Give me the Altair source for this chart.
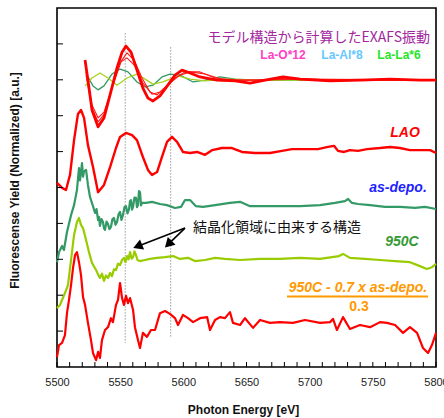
import altair as alt
import pandas as pd

# ---------------- data ----------------
# Model EXAFS oscillations (top group)
sum_E = [5522.2, 5524.5, 5527.7, 5532.5, 5537.2, 5542.0, 5547.5, 5551.5, 5554.6, 5558.6, 5563.3, 5568.0,
         5572.0, 5576.0, 5581.5, 5587.9, 5593.4, 5599.0, 5605.3, 5613.2, 5626.7, 5641.0, 5652.8, 5664.7,
         5678.9, 5692.4, 5716.0, 5740.0, 5763.6, 5787.4, 5800.0]
sum_v = [8.55, 7.99, 7.16, 6.69, 6.94, 7.58, 8.33, 8.77, 8.94, 8.77, 8.27, 7.77,
         7.49, 7.41, 7.55, 7.86, 8.13, 8.27, 8.19, 8.08, 7.99, 7.97, 7.91, 7.99,
         8.08, 8.02, 7.97, 7.99, 8.02, 7.99, 7.99]

thinA_E = [5523.0, 5527.7, 5532.5, 5537.2, 5543.5, 5549.9, 5555.4, 5561.0, 5567.3, 5573.6, 5579.2, 5585.5,
           5593.4, 5601.3, 5613.2, 5625.0, 5641.0, 5660.7, 5684.4, 5716.0, 5800.0]
thinA_v = [8.22, 7.30, 6.94, 7.10, 7.77, 8.47, 8.75, 8.55, 8.05, 7.66, 7.58, 7.77,
           8.05, 8.22, 8.22, 8.05, 7.99, 7.99, 8.05, 7.99, 7.99]

thinB_E = [5523.0, 5527.7, 5532.5, 5538.0, 5544.3, 5550.7, 5555.4, 5561.7, 5568.0, 5575.2, 5581.5, 5589.4,
           5597.4, 5605.3, 5617.2, 5633.0, 5652.8, 5692.4, 5800.0]
thinB_v = [8.13, 7.21, 6.83, 7.07, 7.85, 8.50, 8.61, 8.39, 7.91, 7.60, 7.66, 7.91,
           8.13, 8.22, 8.16, 7.99, 7.99, 8.02, 7.99]

mgreen_E = [5524.5, 5528.5, 5532.5, 5537.2, 5543.5, 5549.9, 5556.2, 5563.3, 5569.7, 5576.0, 5583.1, 5589.4,
            5597.4, 5607.7, 5617.2, 5629.0, 5641.0, 5656.7, 5692.4, 5800.0]
mgreen_v = [8.08, 7.83, 7.72, 7.83, 8.16, 8.30, 8.22, 7.94, 7.80, 7.85, 8.08, 8.16,
            8.13, 7.94, 7.99, 8.08, 8.02, 7.99, 7.99, 7.99]

mlime_E = [5522.2, 5527.7, 5534.0, 5540.4, 5547.5, 5555.4, 5563.3, 5569.7, 5576.0, 5583.9, 5595.8, 5605.3,
           5617.2, 5633.0, 5660.7, 5800.0]
mlime_v = [7.83, 8.05, 8.19, 8.05, 7.85, 8.05, 8.16, 8.02, 7.88, 7.94, 8.11, 8.02,
           7.97, 8.02, 7.99, 7.99]

# LAO reference
lao_E = [5500.0, 5504.0, 5507.1, 5510.3, 5513.5, 5516.6, 5519.0, 5521.4, 5524.5, 5528.5, 5532.5, 5537.2,
         5542.0, 5546.7, 5549.9, 5554.6, 5559.4, 5563.3, 5568.0, 5572.0, 5575.2, 5579.2, 5583.1, 5587.1,
         5591.0, 5595.0, 5599.7, 5605.3, 5610.8, 5617.2, 5622.7, 5630.6, 5638.5, 5646.4, 5656.7, 5668.6,
         5678.1, 5686.0, 5696.3, 5706.6, 5714.5, 5719.3, 5722.4, 5727.2, 5731.9, 5738.3, 5745.4, 5755.7,
         5763.6, 5771.5, 5779.4, 5787.3, 5795.3, 5800.0]
lao_v = [5.13, 4.99, 4.93, 5.35, 6.32, 7.05, 7.16, 6.94, 6.18, 5.57, 4.87, 5.07,
         5.57, 6.10, 6.41, 6.52, 6.46, 6.32, 5.85, 5.49, 5.35, 5.43, 5.85, 6.27,
         6.41, 6.27, 5.99, 5.96, 5.99, 5.91, 6.04, 6.10, 6.10, 5.99, 5.96, 5.96,
         6.02, 6.07, 6.07, 6.07, 6.13, 6.16, 6.02, 5.99, 6.04, 6.02, 6.07, 6.10,
         6.13, 6.10, 6.04, 6.04, 6.04, 5.96]

# as-deposited film
asd_E = [5500.0, 5501.6, 5504.0, 5505.5, 5507.9, 5511.1, 5513.5, 5515.8, 5517.4, 5518.2, 5519.0, 5519.8,
         5520.6, 5521.4, 5523.0, 5524.5, 5526.1, 5528.5, 5530.1, 5531.3, 5532.5, 5533.3, 5534.0, 5535.2,
         5536.4, 5537.2, 5538.0, 5539.2, 5540.4, 5541.5, 5542.7, 5543.9, 5545.1, 5546.3, 5547.5, 5548.7,
         5549.9, 5551.0, 5552.2, 5553.4, 5554.6, 5555.8, 5557.0, 5557.8, 5558.6, 5559.4, 5560.2, 5561.3,
         5562.5, 5563.3, 5564.1, 5564.9, 5565.7, 5566.5, 5567.3, 5570.5,
         5575.2, 5581.5, 5587.1, 5593.4, 5598.2, 5601.3, 5605.3, 5610.0, 5615.6, 5625.1, 5636.9, 5644.9,
         5652.8, 5668.6, 5692.4, 5708.2, 5720.1, 5727.9, 5730.4, 5733.5, 5738.3, 5747.8, 5759.7, 5771.5,
         5783.4, 5791.3, 5800.0]
asd_v = [2.92, 3.20, 3.37, 3.26, 3.76, 4.23, 4.51, 4.93, 5.54, 5.20, 5.43, 5.68,
         5.30, 5.45, 5.49, 5.07, 4.74, 4.48, 4.29, 4.40, 4.09, 4.18, 3.93, 4.12,
         4.04, 3.86, 3.82, 4.05, 3.98, 3.84, 3.90, 4.12, 4.15, 3.96, 4.04, 4.25,
         4.32, 4.10, 4.23, 4.45, 4.48, 4.28, 4.40, 4.62, 4.65, 4.38, 4.46, 4.72,
         4.71, 4.45, 4.51, 4.90, 4.87, 4.50, 4.57, 4.57,
         4.60, 4.54, 4.51, 4.43, 4.46, 4.65, 4.65, 4.48, 4.46, 4.51, 4.57, 4.60,
         4.48, 4.48, 4.48, 4.51, 4.57, 4.62, 4.68, 4.57, 4.54, 4.51, 4.46, 4.46,
         4.43, 4.46, 4.40]

# 950C annealed film
c950_E = [5500.0, 5502.4, 5506.3, 5508.7, 5511.1, 5513.5, 5515.8, 5517.4, 5519.0, 5520.6, 5523.0, 5525.3,
          5527.7, 5530.9, 5532.5, 5534.0, 5535.6, 5537.2, 5538.8, 5540.4, 5542.0, 5543.5, 5545.1, 5546.7,
          5548.3, 5549.9, 5551.5, 5553.0, 5554.2, 5555.4, 5556.6, 5557.8, 5559.0, 5560.2, 5561.3,
          5562.5, 5563.7, 5565.7, 5569.7, 5573.6, 5579.2, 5585.5, 5591.8, 5597.4, 5603.7, 5609.2, 5617.2, 5625.1,
          5633.0, 5644.9, 5660.7, 5676.5, 5692.4, 5708.2, 5723.2, 5726.4, 5731.9, 5743.8, 5755.7, 5767.6,
          5779.4, 5787.3, 5792.8, 5796.8, 5800.0]
c950_v = [1.64, 1.73, 2.06, 2.28, 2.98, 3.68, 4.04, 4.15, 3.96, 3.87, 3.54, 3.20,
          2.90, 2.70, 2.58, 2.48, 2.60, 2.40, 2.55, 2.48, 2.62, 2.53, 2.72, 2.70,
          2.88, 2.84, 2.98, 3.04, 2.92, 3.09, 3.00, 3.20, 3.02, 3.06, 3.22,
          3.12, 2.98, 2.95, 2.98, 3.01, 3.04, 3.06, 3.09, 3.01, 3.04, 2.95, 2.98, 3.04,
          3.01, 2.98, 3.01, 3.01, 3.04, 3.01, 3.09, 3.15, 3.04, 3.01, 2.98, 2.95,
          2.92, 2.81, 2.73, 2.78, 2.87]

# difference spectrum (950C - 0.7 x as-depo.) / 0.3
diff_E = [5500.0, 5501.6, 5504.0, 5506.3, 5507.9, 5509.5, 5511.1, 5512.7, 5514.3, 5515.8, 5517.4, 5519.0,
          5520.6, 5522.2, 5524.5, 5526.9, 5528.5, 5530.9, 5532.5, 5534.0, 5535.6, 5538.0, 5540.4, 5542.7,
          5544.3, 5546.7, 5548.3, 5549.9, 5551.5, 5553.0, 5554.6, 5556.2, 5557.8, 5560.2, 5561.7, 5564.1,
          5565.7, 5568.0, 5571.2, 5574.4, 5577.6, 5581.5, 5585.5, 5589.4, 5593.4, 5595.8, 5599.7, 5603.7,
          5607.7, 5613.2, 5618.8, 5621.1, 5625.1, 5629.0, 5633.0, 5636.9, 5639.3, 5644.9, 5648.8, 5655.2,
          5660.7, 5668.6, 5676.5, 5686.8, 5696.3, 5708.2, 5716.1, 5718.5, 5721.6, 5726.4, 5731.9, 5739.8,
          5747.8, 5755.7, 5761.2, 5767.6, 5773.9, 5779.4, 5785.0, 5789.7, 5793.7, 5796.8, 5800.0]
diff_v = [0.28, 0.61, 0.67, 0.89, 1.50, 1.87, 2.28, 2.76, 3.12, 3.20, 2.92, 2.56,
          1.95, 1.73, 1.23, 0.75, 0.39, 0.19, 0.42, 0.25, 0.75, 1.03, 1.11, 1.36,
          1.25, 1.73, 1.87, 2.34, 1.92, 1.73, 1.98, 1.78, 1.92, 1.59, 1.11, 0.75,
          0.53, 0.95, 0.84, 1.03, 1.03, 1.50, 1.56, 1.48, 1.36, 1.17, 1.45, 1.36,
          1.25, 1.36, 1.39, 1.03, 1.31, 1.39, 1.36, 1.53, 1.23, 1.17, 1.36, 1.09,
          1.31, 1.23, 1.25, 1.23, 1.31, 1.23, 1.25, 1.34, 1.03, 1.39, 1.06, 1.17,
          1.11, 1.25, 1.23, 1.17, 0.95, 1.11, 0.95, 0.53, 0.39, 0.61, 0.95]

# reference energies (dotted lines)
vline_E = [5554, 5590]
vline_top = [9.30, 8.91]
vline_bot = [0.67, 0.84]

# arrows of the annotation
arrow_E0 = [5601.3, 5601.3]
arrow_v0 = [3.87, 3.87]
arrow_E1 = [5565.0, 5589.0]
arrow_v1 = [3.38, 3.45]
arrow_angle = [248, 225]

# axis ticks
x_labels = [5500, 5550, 5600, 5650, 5700, 5750, 5800]
x_minor = list(range(5500, 5801, 10))
y_minor = [1, 2, 3, 4, 5, 6, 7, 8, 9]

W, H = 379, 359
LATIN = "Liberation Sans"
CJK = "Noto Sans CJK JP"

xs = alt.Scale(domain=[5500, 5800], nice=False, zero=False)
ys = alt.Scale(domain=[0, 10], nice=False, zero=False)

X = alt.X("E:Q", scale=xs, axis=alt.Axis(
    values=x_labels, ticks=False, domain=False, grid=False, format="d",
    labelFlush=False, labelOverlap=False,
    labelFontSize=11, labelColor="#222", labelFont=LATIN, labelPadding=9,
    title="Photon Energy [eV]", titleFontSize=12, titleFontWeight="bold",
    titleFont=LATIN, titleColor="#111", titlePadding=17, titleX=186))
Y = alt.Y("v:Q", scale=ys, axis=alt.Axis(
    labels=False, ticks=False, domain=False, grid=False,
    title="Fluorescense Yield (Normalized) [a.u.]", titleFontSize=12,
    titleFontWeight="bold", titleFont=LATIN, titleColor="#111",
    titlePadding=36, titleY=172))


def curve(E, v, color, width):
    return alt.Chart(pd.DataFrame({"E": E, "v": v})).mark_line(
        color=color, strokeWidth=width, strokeJoin="round").encode(x=X, y=Y)


vlines = alt.Chart(pd.DataFrame({"E": vline_E, "v": vline_top, "v2": vline_bot})).mark_rule(
    color="#999999", strokeWidth=1, strokeDash=[1.5, 1.5]).encode(x=X, y=Y, y2="v2:Q")

xt = alt.Chart(pd.DataFrame({"E": x_minor})).mark_rule(color="black", strokeWidth=1).encode(
    x=alt.X("E:Q", scale=xs), y=alt.value(H), y2=alt.value(H - 5))
yt = alt.Chart(pd.DataFrame({"v": y_minor})).mark_rule(color="black", strokeWidth=1).encode(
    y=alt.Y("v:Q", scale=ys), x=alt.value(0), x2=alt.value(6))

arrows_df = pd.DataFrame({"E": arrow_E0, "v": arrow_v0, "E2": arrow_E1, "v2": arrow_v1,
                          "ang": arrow_angle})
arrow_lines = alt.Chart(arrows_df).mark_rule(color="black", strokeWidth=1.6).encode(
    x=X, y=Y, x2="E2:Q", y2="v2:Q")
arrow_heads = alt.Chart(arrows_df).mark_point(
    shape="triangle", filled=True, color="black", size=120, opacity=1).encode(
    x=alt.X("E2:Q", scale=xs), y=alt.Y("v2:Q", scale=ys),
    angle=alt.Angle("ang:Q", scale=None))


def label(text, x, y, color, size, font=LATIN, bold=True, italic=False, align="center"):
    kw = dict(text=text, color=color, fontSize=size, font=font, align=align, baseline="middle")
    if bold:
        kw["fontWeight"] = "bold"
    if italic:
        kw["fontStyle"] = "italic"
    return alt.Chart().mark_text(**kw).encode(x=alt.value(x), y=alt.value(y))


texts = [
    label("モデル構造から計算したEXAFS振動", 373, 30, "#a3279f", 14, font=CJK, bold=False, align="right"),
    label("La-O*12", 226, 47, "#ff3fc4", 12),
    label("La-Al*8", 285, 47, "#66c8ff", 12),
    label("La-La*6", 342, 47, "#25e625", 12),
    label("LAO", 348, 125, "#ff0000", 14, italic=True),
    label("as-depo.", 341, 180, "#1f1fff", 14, italic=True),
    label("950C", 345, 234, "#339933", 14, italic=True),
    label("950C - 0.7 x as-depo.", 301, 280, "#ff9900", 14, italic=True),
    label("0.3", 302, 299, "#ff9900", 14),
    label("結晶化領域に由来する構造", 136, 220, "#111111", 14, font=CJK, bold=False, align="left"),
]
underline = alt.Chart().mark_rule(color="#ff9900", strokeWidth=2).encode(
    x=alt.value(230), x2=alt.value(371), y=alt.value(288.5))

layers = [
    vlines,
    curve(mgreen_E, mgreen_v, "#339966", 1.3),
    curve(mlime_E, mlime_v, "#a5d21e", 1.3),
    curve(thinA_E, thinA_v, "#ff1a1a", 1.1),
    curve(thinB_E, thinB_v, "#ff1a1a", 1.1),
    curve(sum_E, sum_v, "#ff0000", 2.8),
    curve(lao_E, lao_v, "#ff0000", 2.4),
    curve(asd_E, asd_v, "#339966", 2.2),
    curve(c950_E, c950_v, "#99cc00", 2.2),
    curve(diff_E, diff_v, "#ff0000", 2.2),
    arrow_lines, arrow_heads, xt, yt, underline,
] + texts

chart = alt.layer(*layers).properties(
    width=W, height=H,
    autosize=alt.AutoSizeParams(type="none"),
    padding={"left": 57, "top": 8, "right": 8, "bottom": 51},
    background="white",
).configure_view(stroke="black", strokeWidth=1.6)

chart.save("out.html", embed_options={"renderer": "svg", "actions": False})
